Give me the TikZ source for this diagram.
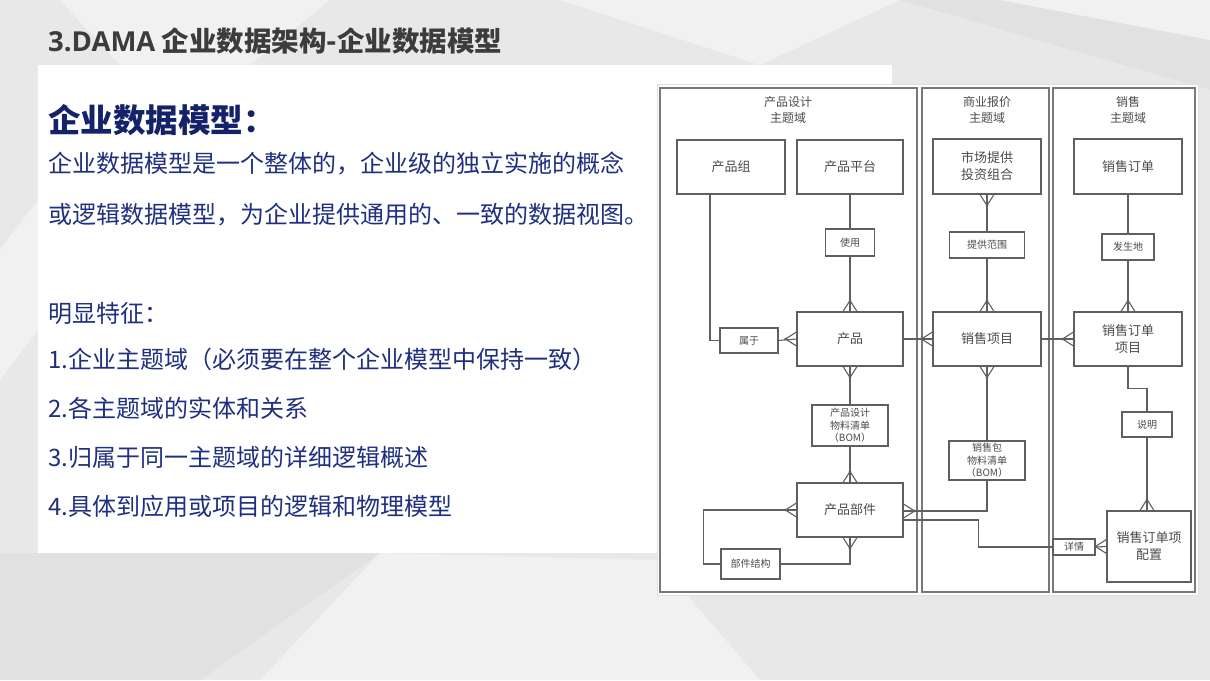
\documentclass[tikz,border=0pt]{standalone}
\usepackage{fontspec}
\setmainfont{Noto Sans CJK SC}
\newfontfamily\latbold{Open Sans}
\usetikzlibrary{calc}
\definecolor{bgbase}{RGB}{232,232,232}
\definecolor{bglight}{RGB}{241,241,241}
\definecolor{bgdark}{RGB}{225,225,225}
\definecolor{titlec}{RGB}{60,60,60}
\definecolor{headc}{RGB}{20,35,105}
\definecolor{bodyc}{RGB}{32,48,128}
\definecolor{linec}{RGB}{95,95,95}
\definecolor{txtc}{RGB}{75,75,75}
\definecolor{framec}{RGB}{120,120,120}
\tikzset{
  conn/.style={draw=linec, line width=1.1pt},
  frame/.style={draw=framec, line width=1.4pt},
  ent/.style={draw=linec, line width=1.1pt, inner sep=0pt, align=center, text=txtc,
    font=\fontsize{13}{17}\selectfont},
  rel/.style={draw=linec, line width=1.1pt, inner sep=0pt, align=center, text=txtc,
    font=\fontsize{10}{12.5}\selectfont},
  domtitle/.style={align=center, text=txtc, font=\fontsize{12}{16}\selectfont},
  bodytext/.style={anchor=west, inner sep=0pt, text=bodyc, font=\fontsize{24}{28}\selectfont},
  crow/.pic={\draw[conn] (0,-7) -- (11,0) -- (0,7); \fill[linec] (11,0) circle[radius=1.4];}
}
\begin{document}
\begin{tikzpicture}[x=1pt,y=-1pt]
\useasboundingbox (0,0) rectangle (1210,680);
% background
\fill[bgbase] (0,0) rectangle (1210,680);
\fill[bglight] (60,0) -- (330,0) -- (250,65) -- (120,65) -- cycle;
\fill[bglight] (560,0) -- (900,0) -- (760,65) -- cycle;
\fill[bgdark] (900,0) -- (1210,0) -- (1210,90) -- cycle;
\fill[bglight] (1000,0) -- (1210,40) -- (1210,0) -- cycle;
\fill[bgdark] (0,553) -- (380,553) -- (200,680) -- (0,680) -- cycle;
\fill[bglight] (380,553) -- (657,560) -- (760,680) -- (260,680) -- cycle;
\fill[bglight] (0,250) -- (38,200) -- (38,330) -- (0,380) -- cycle;
% white panel
\fill[white] (38,65) rectangle (892,553);
% title
\node[anchor=west, inner sep=0pt, text=titlec, font=\fontsize{27.5}{32}\selectfont\bfseries] (title) at (48,41)
  {{\latbold\bfseries 3.DAMA} 企业数据架构-企业数据模型};
% left text
\node[anchor=west, inner sep=0pt, text=headc, font=\fontsize{32.5}{36}\selectfont\bfseries] (head) at (48,120) {企业数据模型：};
\node[bodytext] (b1) at (48,163) {企业数据模型是一个整体的，企业级的独立实施的概念};
\node[bodytext] (b2) at (48,215) {或逻辑数据模型，为企业提供通用的、一致的数据视图。};
\node[bodytext] (f0) at (48,313) {明显特征：};
\node[bodytext] (f1) at (48,359) {1.企业主题域（必须要在整个企业模型中保持一致）};
\node[bodytext] (f2) at (48,408) {2.各主题域的实体和关系};
\node[bodytext] (f3) at (48,457) {3.归属于同一主题域的详细逻辑概述};
\node[bodytext] (f4) at (48,506) {4.具体到应用或项目的逻辑和物理模型};
% diagram background
\fill[white, draw=black!12] (657,84) rectangle (1198,595);
\draw[frame] (660,88) rectangle (917,592);
\draw[frame] (922,88) rectangle (1049,592);
\draw[frame] (1053,88) rectangle (1195,592);
\node[domtitle] (t1) at (788,110) {产品设计\\主题域};
\node[domtitle] (t2) at (987,110) {商业报价\\主题域};
\node[domtitle] (t3) at (1128,110) {销售\\主题域};
% entities
\node[ent, minimum width=108, minimum height=54] (pg) at (731,167) {产品组};
\node[ent, minimum width=106, minimum height=54] (pp) at (850,167) {产品平台};
\node[rel, minimum width=49, minimum height=27] (use) at (850,242.5) {使用};
\node[ent, minimum width=106, minimum height=54] (prod) at (850,339) {产品};
\node[rel, minimum width=58, minimum height=25] (belong) at (749,340.5) {属于};
\node[rel, minimum width=76, minimum height=41] (pbom) at (850,425.5) {产品设计\\物料清单\\（BOM）};
\node[ent, minimum width=106, minimum height=54] (part) at (850,510) {产品部件};
\node[rel, minimum width=59, minimum height=30] (pstruct) at (750.5,564) {部件结构};
\node[ent, minimum width=108, minimum height=55] (mkt) at (987,166.5) {市场提供\\投资组合};
\node[rel, minimum width=75, minimum height=26] (scope) at (987,245) {提供范围};
\node[ent, minimum width=108, minimum height=54] (sitem) at (987,339) {销售项目};
\node[rel, minimum width=76, minimum height=39] (sbom) at (987,460.5) {销售包\\物料清单\\（BOM）};
\node[ent, minimum width=108, minimum height=55] (so) at (1128,166.5) {销售订单};
\node[rel, minimum width=52, minimum height=26] (occur) at (1128,247) {发生地};
\node[ent, minimum width=108, minimum height=54] (soi) at (1128,339) {销售订单\\项目};
\node[rel, minimum width=50, minimum height=25] (expl) at (1147,424.5) {说明};
\node[ent, minimum width=84, minimum height=71] (soc) at (1149,546.5) {销售订单项\\配置};
\node[rel, minimum width=42, minimum height=16] (detail) at (1074,547) {详情};
% connectors
\draw[conn] ([xshift=-21]pg.south) |- (belong.west);
\draw[conn] (belong.east) -- (prod.west);
\pic[rotate=180] at (prod.west) {crow};
\draw[conn] (pp.south) -- (use.north);
\draw[conn] (use.south) -- (prod.north);
\pic[rotate=90] at (prod.north) {crow};
\draw[conn] (prod.south) -- (pbom.north);
\pic[rotate=270] at (prod.south) {crow};
\draw[conn] (pbom.south) -- (part.north);
\pic[rotate=90] at (part.north) {crow};
\draw[conn] (part.west) -- ++(-93,0) |- (pstruct.west);
\pic[rotate=180] at (part.west) {crow};
\draw[conn] (pstruct.east) -| (part.south);
\pic[rotate=270] at (part.south) {crow};
\coordinate (pe1) at ([yshift=-1pt]part.east);
\coordinate (pe2) at ([yshift=-10pt]part.east);
\draw[conn] (pe1) -| (sbom.south);
\pic at (pe1) {crow};
\draw[conn] (pe2) -- ++(75,0) |- (detail.west);
\draw[conn] (prod.east) -- (sitem.west);
\pic[rotate=180] at (sitem.west) {crow};
\draw[conn] (mkt.south) -- (scope.north);
\pic[rotate=270] at (mkt.south) {crow};
\draw[conn] (scope.south) -- (sitem.north);
\pic[rotate=90] at (sitem.north) {crow};
\draw[conn] (sitem.south) -- (sbom.north);
\pic[rotate=270] at (sitem.south) {crow};
\draw[conn] (sitem.east) -- (soi.west);
\pic[rotate=180] at (soi.west) {crow};
\draw[conn] (so.south) -- (occur.north);
\draw[conn] (occur.south) -- (soi.north);
\pic[rotate=90] at (soi.north) {crow};
\draw[conn] (soi.south) -- ++(0,22) -| (expl.north);
\draw[conn] (expl.south) -- (expl.south |- soc.north);
\pic[rotate=90] at (expl.south |- soc.north) {crow};
\draw[conn] (detail.east) -- (soc.west);
\pic[rotate=180] at (soc.west) {crow};
\end{tikzpicture}
\end{document}
